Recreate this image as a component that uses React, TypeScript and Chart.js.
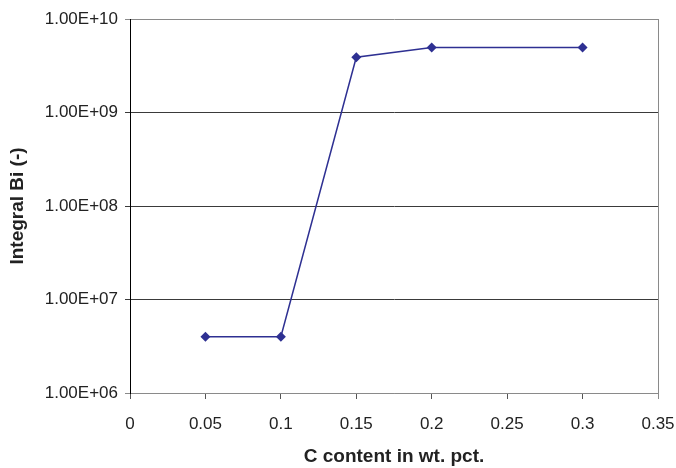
import React, { useEffect, useRef } from "react";
import { Chart, registerables } from "chart.js";

Chart.register(...registerables);

const xValues = [0.05, 0.1, 0.15, 0.2, 0.3];
const yValues = [4.0e6, 4.0e6, 3.9e9, 4.95e9, 4.95e9];
const xTicks = [0, 0.05, 0.1, 0.15, 0.2, 0.25, 0.3, 0.35];
const yTicks = [1e6, 1e7, 1e8, 1e9, 1e10];
const xTitle = "C content in wt. pct.";
const yTitle = "Integral Bi (-)";

const SERIES_COLOR = "#2E3092";
const FONT = "Arial, 'Liberation Sans', Helvetica, sans-serif";

function fmtExp(v: number): string {
  const e = Math.round(Math.log10(v));
  const m = v / Math.pow(10, e);
  const sign = e < 0 ? "-" : "+";
  const ea = Math.abs(e);
  return m.toFixed(2) + "E" + sign + (ea < 10 ? "0" + ea : String(ea));
}

const rightBorder = {
  id: "rightBorder",
  afterDraw(chart: any) {
    const { ctx, chartArea } = chart;
    ctx.save();
    ctx.strokeStyle = "#8a8a8a";
    ctx.lineWidth = 1;
    ctx.beginPath();
    const x = Math.round(chartArea.right) + 0.5;
    ctx.moveTo(x, chartArea.top);
    ctx.lineTo(x, chartArea.bottom + 6);
    ctx.stroke();
    ctx.restore();
  },
};

export default function App() {
  const ref = useRef<HTMLCanvasElement | null>(null);

  useEffect(() => {
    if (!ref.current) return;
    const chart = new Chart(ref.current, {
      type: "line",
      data: {
        datasets: [
          {
            data: xValues.map((x, i) => ({ x, y: yValues[i] })),
            borderColor: SERIES_COLOR,
            backgroundColor: SERIES_COLOR,
            borderWidth: 1.5,
            pointStyle: "rectRot",
            pointRadius: 5,
            pointBorderWidth: 0,
            tension: 0,
            fill: false,
          },
        ],
      },
      options: {
        animation: false,
        responsive: false,
        layout: { padding: { top: 19, right: 18, left: 0, bottom: 0 } },
        plugins: {
          legend: { display: false },
          tooltip: { enabled: false },
        },
        scales: {
          x: {
            type: "linear",
            min: 0,
            max: 0.35,
            afterBuildTicks: (scale: any) => {
              scale.ticks = xTicks.map((v) => ({ value: v }));
            },
            afterFit: (scale: any) => {
              scale.height = 75;
              scale.paddingLeft = 0;
              scale.paddingRight = 0;
            },
            ticks: {
              color: "#222",
              font: { family: FONT, size: 17 },
              padding: 15,
              maxRotation: 0,
              autoSkip: false,
              callback: (v: any) => String(Number(Number(v).toFixed(2))),
            },
            grid: {
              display: true,
              drawOnChartArea: false,
              drawTicks: true,
              tickLength: 6,
              color: "#555",
            },
            border: { display: true, color: "#8a8a8a", width: 1 },
            title: {
              display: true,
              text: xTitle,
              color: "#222",
              font: { family: FONT, size: 19, weight: "bold" },
              padding: { top: 4, bottom: 0 },
            },
          },
          y: {
            type: "logarithmic",
            min: 1e6,
            max: 1e10,
            afterBuildTicks: (scale: any) => {
              scale.ticks = yTicks.map((v) => ({ value: v }));
            },
            afterFit: (scale: any) => {
              scale.width = 130;
              scale.paddingTop = 0;
              scale.paddingBottom = 0;
            },
            ticks: {
              color: "#222",
              font: { family: FONT, size: 17 },
              padding: 7,
              autoSkip: false,
              callback: (v: any) => fmtExp(Number(v)),
            },
            grid: {
              display: true,
              drawTicks: true,
              tickLength: 5,
              color: (ctx: any) => {
                const v = ctx.tick ? ctx.tick.value : 0;
                return v === 1e10 || v === 1e6 ? "#8a8a8a" : "#3a3a3a";
              },
            },
            border: { display: true, color: "#000", width: 1 },
            title: {
              display: true,
              text: yTitle,
              color: "#222",
              font: { family: FONT, size: 19, weight: "bold" },
              padding: { top: 6, bottom: 0 },
            },
          },
        },
      } as any,
      plugins: [rightBorder],
    });
    return () => chart.destroy();
  }, []);

  return (
    <div style={{ position: "absolute", left: 0, top: 0, width: 676, height: 468, background: "#fff" }}>
      <canvas ref={ref} width={676} height={468} />
    </div>
  );
}
